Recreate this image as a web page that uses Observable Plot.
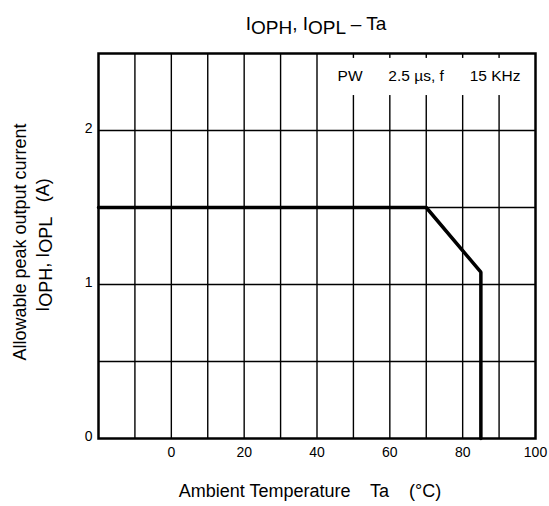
<!DOCTYPE html>
<html>
<head>
<meta charset="utf-8">
<script src="https://cdn.jsdelivr.net/npm/d3@7"></script>
<script src="https://cdn.jsdelivr.net/npm/@observablehq/plot@0.6"></script>
<style>
  body { margin: 0; background: #fff; }
  svg text { white-space: pre; }
</style>
</head>
<body>
<div id="chart"></div>
<script>
// Derating curve: allowable peak output current vs ambient temperature
const temps = [-20, 70, 85, 85];
const currents = [1.5, 1.5, 1.08, 0];

const xTicks = [0, 20, 40, 60, 80, 100];
const yTicks = [0, 1, 2];
const xGrid = [-10, 0, 10, 20, 30, 40, 50, 60, 70, 80, 90];
const yGrid = [0.5, 1, 1.5, 2];
const noteText = ["PW      2.5 µs, f      15 KHz"];

const xLabel = "Ambient Temperature    Ta    (°C)";
const yLabel1 = "Allowable peak output current";

const curve = temps.map((t, i) => ({t, c: currents[i]}));
const font = "'Liberation Sans', Arial, Helvetica, sans-serif";

const chart = Plot.plot({
  width: 549,
  height: 506,
  marginLeft: 98,
  marginRight: 14,
  marginTop: 53,
  marginBottom: 68,
  style: {fontFamily: font, background: "#fff", color: "#000"},
  x: {domain: [-20, 100]},
  y: {domain: [0, 2.5]},
  marks: [
    Plot.ruleX(xGrid, {stroke: "#000", strokeWidth: 1.4}),
    Plot.ruleY(yGrid, {stroke: "#000", strokeWidth: 1.4}),
    // blank backing of the note (interrupts the grid behind it)
    Plot.rect(noteText, {x1: () => 47, x2: () => 100, y1: () => 2.227, y2: () => 2.468, fill: "#fff"}),
    Plot.text(noteText, {
      frameAnchor: "top-right", textAnchor: "end", lineAnchor: "middle",
      dx: -15, dy: 23, fontSize: 15.5, fill: "#000"
    }),
    Plot.line(curve, {x: "t", y: "c", stroke: "#000", strokeWidth: 3.5, strokeLinejoin: "miter"}),
    Plot.frame({stroke: "#000", strokeWidth: 2.5}),
    Plot.axisX(xTicks, {tickSize: 0, tickPadding: 9, fontSize: 14, label: null, tickFormat: d3.format("d")}),
    Plot.axisY(yTicks, {tickSize: 0, tickPadding: 6, fontSize: 14, label: null, tickFormat: d3.format("d"), dy: -2})
  ]
});

document.getElementById("chart").appendChild(chart);

const svg = d3.select(chart);

// Title with subscripts
const title = svg.append("text")
  .attr("x", 316).attr("y", 30)
  .attr("text-anchor", "middle")
  .attr("font-family", font)
  .attr("font-size", 19)
  .attr("fill", "#000");
title.append("tspan").text("I");
title.append("tspan").attr("dy", 4).text("OPH");
title.append("tspan").attr("dy", -4).text(", I");
title.append("tspan").attr("dy", 4).text("OPL");
title.append("tspan").attr("dy", -4).text(" – Ta");

// X axis label
svg.append("text")
  .attr("x", 310).attr("y", 497)
  .attr("text-anchor", "middle")
  .attr("font-family", font)
  .attr("font-size", 18)
  .attr("fill", "#000")
  .text(xLabel);

// Y axis label, two rotated lines
svg.append("text")
  .attr("transform", "translate(26,242) rotate(-90)")
  .attr("text-anchor", "middle")
  .attr("font-family", font)
  .attr("font-size", 18)
  .attr("fill", "#000")
  .text(yLabel1);

const y2 = svg.append("text")
  .attr("transform", "translate(49,245) rotate(-90)")
  .attr("text-anchor", "middle")
  .attr("font-family", font)
  .attr("font-size", 18)
  .attr("fill", "#000");
y2.append("tspan").text("I");
y2.append("tspan").attr("dy", 3).text("OPH");
y2.append("tspan").attr("dy", -3).text(", I");
y2.append("tspan").attr("dy", 3).text("OPL");
y2.append("tspan").attr("dy", -3).text("   (A)");
</script>
</body>
</html>
